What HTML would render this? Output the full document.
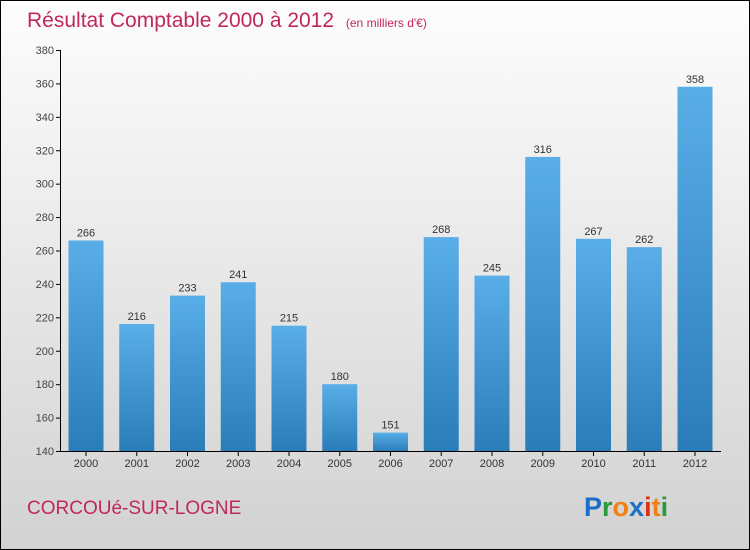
<!DOCTYPE html>
<html><head><meta charset="utf-8"><style>
body{margin:0}
#c{width:748px;height:548px;border:1px solid #000;background:linear-gradient(#fdfdfd,#d2d2d2);position:relative;font-family:"Liberation Sans",sans-serif;overflow:hidden}
</style></head><body>
<div id="c">
<svg width="748" height="548" id="s">
<defs><linearGradient id="g" x1="0" x2="0" y1="0" y2="1"><stop offset="0" stop-color="#5aaee8"/><stop offset="1" stop-color="#2a7db8"/></linearGradient></defs>
<text x="26" y="26" font-size="21" fill="#c0285a">Résultat Comptable 2000 à 2012 <tspan font-size="12" dx="6">(en milliers d'€)</tspan></text>
<text x="26" y="513" font-size="19" fill="#c0285a">CORCOUé-SUR-LOGNE</text>
<text x="583" y="515" font-size="27" font-weight="bold"><tspan fill="#1a6fc8">P</tspan><tspan fill="#2a9a3a">r</tspan><tspan fill="#f08010">o</tspan><tspan fill="#1a6fc8">x</tspan><tspan fill="#e03010">i</tspan><tspan fill="#f08010">t</tspan><tspan fill="#2a9a3a">i</tspan></text>
<g id="ax"></g><g id="bars"></g>
</svg></div>
<script>
const years=["2000","2001","2002","2003","2004","2005","2006","2007","2008","2009","2010","2011","2012"];
const values=[266,216,233,241,215,180,151,268,245,316,267,262,358];
const ticks=[140,160,180,200,220,240,260,280,300,320,340,360,380];
const NS="http://www.w3.org/2000/svg";
const y=v=>450-(v-140)*(401/240);
const x=i=>85+i*50.75;
function mk(t,a,p){const e=document.createElementNS(NS,t);for(const k in a)e.setAttribute(k,a[k]);p.appendChild(e);return e;}
const ax=document.getElementById('ax'),bars=document.getElementById('bars');
const al=mk('line',{x1:59.5,x2:59.5,y1:y(380),y2:450.5,stroke:'#000'},ax);


const bl=mk('line',{x1:59,x2:720,y1:450.5,y2:450.5,stroke:'#000'},ax);


ticks.forEach(t=>{
 mk('line',{x1:55,x2:60,y1:y(t)+.5,y2:y(t)+.5,stroke:'#000'},ax);
 const tx=mk('text',{x:53,y:y(t)+4,'text-anchor':'end','font-size':11,fill:'#444'},ax);tx.textContent=t;
 
 
});
values.forEach((v,i)=>{
 const r=mk('rect',{x:x(i)-17.5,y:y(v),width:35,height:450-y(v),fill:'url(#g)'},bars);
 
 
 const l=mk('text',{x:x(i),y:y(v)-4,'text-anchor':'middle','font-size':11,fill:'#333'},bars);l.textContent=v;
 
 
 mk('line',{x1:x(i),x2:x(i),y1:450,y2:455,stroke:'#000'},ax);
 const xl=mk('text',{x:x(i),y:466,'text-anchor':'middle','font-size':11,fill:'#333'},ax);xl.textContent=years[i];
 
 
});
</script>
</body></html>
